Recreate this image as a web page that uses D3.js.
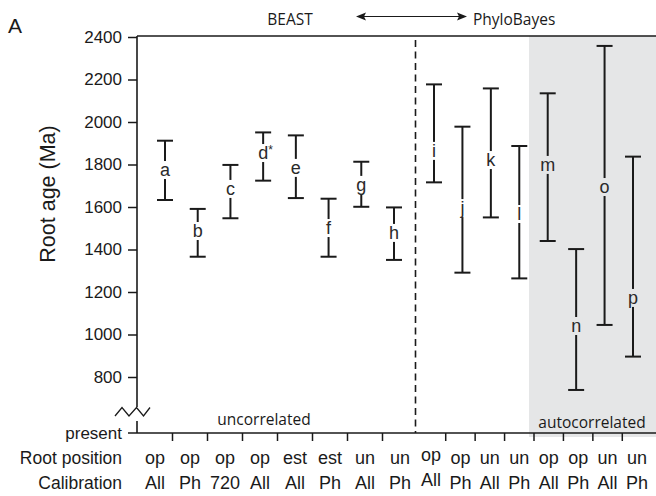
<!DOCTYPE html>
<html><head><meta charset="utf-8">
<script src="https://cdn.jsdelivr.net/npm/d3@7"></script>
<style>
html,body{margin:0;padding:0;background:#fff;}
svg{display:block;}
</style></head>
<body>
<svg id="chart" width="656" height="496"></svg>
<script>
// ---- data ----
const letters   = ["a","b","c","d","e","f","g","h","i","j","k","l","m","n","o","p"];
const upperAge  = [1912,1591,1798,1951,1937,1639,1813,1598,2177,1978,2158,1887,2135,1402,2358,1837];
const lowerAge  = [1633,1366,1547,1724,1642,1366,1601,1351,1716,1291,1551,1264,1440,739,1045,896];
const labelAge  = [1774,1487,1685,1854,1784,1501,1704,1478,1864,1595,1821,1567,1798,1040,1694,1172];
const rootPos   = ["op","op","op","op","est","est","un","un","op","op","un","un","op","op","un","un"];
const calib     = ["All","Ph","720","All","All","Ph","All","Ph","All","Ph","All","Ph","All","Ph","All","Ph"];
const yTicks    = [800,1000,1200,1400,1600,1800,2000,2200,2400];
const methods   = ["BEAST","PhyloBayes"];
const clocks    = ["uncorrelated","autocorrelated"];

// ---- layout ----
const svg = d3.select("#chart");
const axisX = 137, topY = 36, baseY = 433, rightX = 656;
const INK = "#1a1a1a";
const GRAY = "#e5e6e7";
const idx = d3.range(letters.length);

const y = d3.scaleLinear().domain([800, 2400]).range([377, 37]);
const xBar = d3.scaleLinear().domain([0, 7, 8, 15]).range([165, 394, 434, 633]);
const xLab = d3.scaleLinear().domain([0, 7, 8, 15]).range([155, 400, 431, 637]);
const splitX = xLab(7.5);

// gray autocorrelated area
const grayX = 529;
svg.append("rect").attr("x", grayX).attr("y", topY).attr("width", rightX - grayX)
  .attr("height", 437 - topY).attr("fill", GRAY);

// top frame
svg.append("line").attr("x1", axisX).attr("x2", rightX).attr("y1", topY).attr("y2", topY)
  .attr("stroke", INK).attr("stroke-width", 1.6);

// dashed separator
svg.append("line").attr("x1", splitX).attr("x2", splitX).attr("y1", topY + 4).attr("y2", baseY)
  .attr("stroke", INK).attr("stroke-width", 1.6).attr("stroke-dasharray", "7,4.5");

// y axis
const yAxis = d3.axisLeft(y).tickValues(yTicks).tickSize(9).tickPadding(6).tickFormat(d3.format("d"));
const gy = svg.append("g").attr("transform", `translate(${axisX},0)`).call(yAxis);
gy.select(".domain").remove();
gy.selectAll(".tick line").attr("stroke", INK).attr("stroke-width", 1.5);
gy.selectAll(".tick text").attr("fill", INK).style("font-family", "Liberation Sans, Arial, sans-serif").style("font-size", "17px");
// axis line with break
svg.append("line").attr("x1", axisX).attr("x2", axisX).attr("y1", topY).attr("y2", 407)
  .attr("stroke", INK).attr("stroke-width", 1.6);
svg.append("line").attr("x1", axisX).attr("x2", axisX).attr("y1", 421).attr("y2", baseY)
  .attr("stroke", INK).attr("stroke-width", 1.6);
svg.append("path").attr("d", "M115,416 L122,407.5 L129,416 L136.5,407.5 L143.5,416 L150,407.5")
  .attr("fill", "none").attr("stroke", INK).attr("stroke-width", 1.3);

// present tick
svg.append("line").attr("x1", axisX - 9).attr("x2", axisX).attr("y1", baseY).attr("y2", baseY)
  .attr("stroke", INK).attr("stroke-width", 1.5);
svg.append("text").attr("x", 122).attr("y", 439).attr("text-anchor", "end")
  .style("font-family", "Liberation Sans, Arial, sans-serif").style("font-size", "17px").attr("fill", INK).text("present");

// bottom axis
svg.append("line").attr("x1", axisX).attr("x2", rightX).attr("y1", baseY).attr("y2", baseY)
  .attr("stroke", INK).attr("stroke-width", 1.6);
const tickPos = d3.range(0, 15).map(i => i + 0.5).filter(v => v !== 7.5);
svg.append("g").selectAll("line").data(tickPos).join("line")
  .attr("x1", d => xLab(d)).attr("x2", d => xLab(d)).attr("y1", baseY).attr("y2", baseY + 8)
  .attr("stroke", INK).attr("stroke-width", 1.5);

// bottom labels
const lf = "Liberation Sans, Arial, sans-serif";
svg.append("text").attr("x", 122).attr("y", 464).attr("text-anchor", "end")
  .style("font-family", lf).style("font-size", "17.5px").attr("fill", INK).text("Root position");
svg.append("text").attr("x", 122).attr("y", 489).attr("text-anchor", "end")
  .style("font-family", lf).style("font-size", "17.5px").attr("fill", INK).text("Calibration");
svg.append("g").selectAll("text").data(idx).join("text")
  .attr("x", i => xLab(i)).attr("y", i => i === 8 ? 461 : 464).attr("text-anchor", "middle")
  .style("font-family", lf).style("font-size", "18px").attr("fill", INK).text(i => rootPos[i]);
svg.append("g").selectAll("text").data(idx).join("text")
  .attr("x", i => xLab(i)).attr("y", i => i === 8 ? 486 : 489).attr("text-anchor", "middle")
  .style("font-family", lf).style("font-size", "18px").attr("fill", INK).text(i => calib[i]);

// clock labels
const of = "Open Sans, sans-serif";
svg.append("text").attr("x", 264).attr("y", 425).attr("text-anchor", "middle")
  .style("font-family", of).style("font-size", "15.5px").attr("fill", INK).text(clocks[0]);
svg.append("text").attr("x", 592).attr("y", 428).attr("text-anchor", "middle")
  .style("font-family", of).style("font-size", "15.5px").attr("fill", INK).text(clocks[1]);

// header
svg.append("text").attr("x", 290).attr("y", 25).attr("text-anchor", "middle")
  .style("font-family", of).style("font-size", "15.5px").attr("fill", INK).text(methods[0]);
svg.append("text").attr("x", 473).attr("y", 25).attr("text-anchor", "start")
  .style("font-family", of).style("font-size", "15.5px").attr("fill", INK).text(methods[1]);
const ay = 16.5;
svg.append("line").attr("x1", 362).attr("x2", 462).attr("y1", ay).attr("y2", ay)
  .attr("stroke", INK).attr("stroke-width", 1.2);
svg.append("path").attr("d", `M356,${ay} L366,${ay-4} L364,${ay} L366,${ay+4} Z`).attr("fill", INK);
svg.append("path").attr("d", `M467,${ay} L457,${ay-4} L459,${ay} L457,${ay+4} Z`).attr("fill", INK);

// panel letter
svg.append("text").attr("x", 8).attr("y", 33).style("font-family", lf).style("font-size", "21px")
  .attr("fill", INK).text("A");

// y title
svg.append("text").attr("transform", "translate(55,194) rotate(-90)").attr("text-anchor", "middle")
  .style("font-family", lf).style("font-size", "21.5px").attr("fill", INK).text("Root age (Ma)");

// error bars
const cap = 8;
const bars = svg.append("g").selectAll("g").data(idx).join("g");
bars.append("line").attr("x1", i => xBar(i)).attr("x2", i => xBar(i))
  .attr("y1", i => y(upperAge[i])).attr("y2", i => y(lowerAge[i]))
  .attr("stroke", INK).attr("stroke-width", 2);
bars.append("line").attr("x1", i => xBar(i) - cap).attr("x2", i => xBar(i) + cap)
  .attr("y1", i => y(upperAge[i])).attr("y2", i => y(upperAge[i]))
  .attr("stroke", INK).attr("stroke-width", 2);
bars.append("line").attr("x1", i => xBar(i) - cap).attr("x2", i => xBar(i) + cap)
  .attr("y1", i => y(lowerAge[i])).attr("y2", i => y(lowerAge[i]))
  .attr("stroke", INK).attr("stroke-width", 2);
bars.append("rect")
  .attr("x", i => xBar(i) - 6).attr("y", i => y(labelAge[i]) - 9)
  .attr("width", 12).attr("height", 18)
  .attr("fill", i => xBar(i) > grayX ? GRAY : "#fff");
bars.append("text").attr("x", i => xBar(i)).attr("y", i => y(labelAge[i]) + 6)
  .attr("text-anchor", "middle").style("font-family", lf).style("font-size", "18px")
  .attr("fill", "#2a2a2a").text(i => letters[i]);
// asterisk on d
svg.append("text").attr("x", xBar(3) + 5).attr("y", y(labelAge[3]) + 1)
  .style("font-family", lf).style("font-size", "12px").attr("fill", "#2a2a2a").text("*");
</script>
</body></html>
